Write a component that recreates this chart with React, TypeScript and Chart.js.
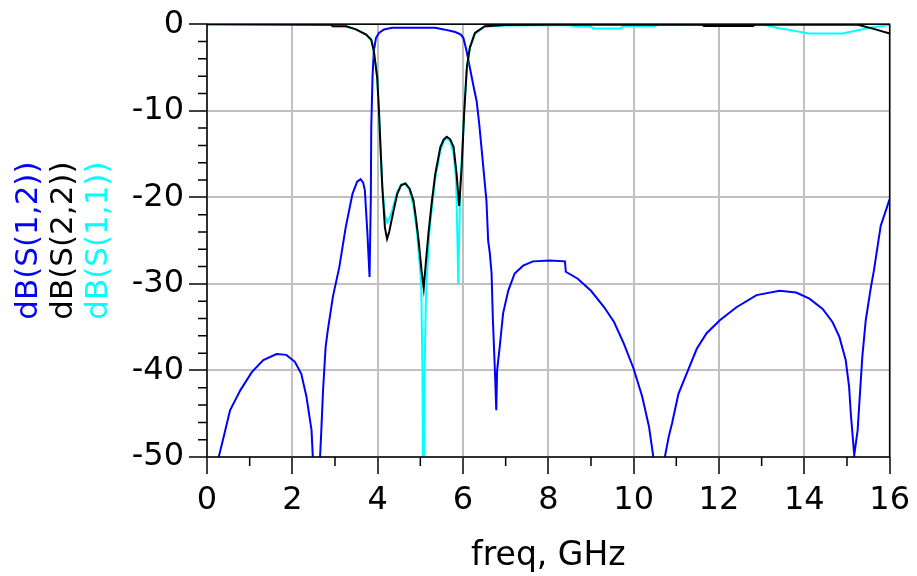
import { useEffect, useRef } from "react";
import { Chart, registerables } from "chart.js";

Chart.register(...registerables);

const FONT = "'DejaVu Sans', 'Liberation Sans', sans-serif";

// ---- Data ----
const s12Freq = [0.25, 0.39, 0.54, 0.78, 1.05, 1.32, 1.63, 1.86, 2.06, 2.21, 2.33, 2.45, 2.49, 2.56, 2.64, 2.68, 2.72, 2.78, 2.83, 2.95, 3.1, 3.25, 3.41, 3.52, 3.6, 3.66, 3.7, 3.76, 3.81, 3.84, 3.85, 3.88, 3.91, 3.96, 4.03, 4.15, 4.34, 5.35, 5.55, 5.82, 5.95, 6.01, 6.08, 6.16, 6.24, 6.32, 6.38, 6.44, 6.55, 6.59, 6.63, 6.67, 6.7, 6.75, 6.78, 6.8, 6.86, 6.94, 7.06, 7.21, 7.41, 7.64, 8.03, 8.39, 8.41, 8.69, 9.0, 9.31, 9.54, 9.77, 10.0, 10.2, 10.36, 10.47, 10.6, 10.72, 10.82, 10.9, 11.05, 11.29, 11.48, 11.71, 12.02, 12.41, 12.88, 13.42, 13.81, 14.12, 14.43, 14.66, 14.82, 14.97, 15.05, 15.09, 15.17, 15.25, 15.3, 15.36, 15.44, 15.56, 15.63, 15.79, 16.0];
const s12Db = [-50.5, -47.7, -44.6, -42.3, -40.2, -38.8, -38.1, -38.2, -39.0, -40.4, -43.0, -46.9, -51, -58, -51, -46.9, -42.3, -37.3, -35.4, -31.5, -28.1, -23.5, -19.6, -18.2, -17.9, -18.3, -19.2, -24.2, -29.2, -20, -11.9, -6, -3.1, -1.6, -1.0, -0.6, -0.42, -0.42, -0.6, -0.9, -1.2, -1.6, -3, -5, -7, -8.9, -11.5, -14.6, -20.4, -25, -26.5, -28.8, -34, -40.3, -44.6, -40, -37.3, -33.4, -30.8, -28.8, -27.9, -27.4, -27.3, -27.4, -28.6, -29.4, -30.8, -32.7, -34.4, -36.9, -39.8, -43.0, -46.5, -50.3, -58, -50.3, -47.7, -46.1, -42.7, -39.8, -37.5, -35.7, -34.2, -32.7, -31.3, -30.8, -31.0, -31.7, -32.9, -34.4, -36.1, -38.8, -41.9, -45.0, -49.8, -46.9, -43.0, -38.4, -34.2, -30.4, -28.5, -23.3, -20.2];

const s22Freq = [0, 2.9, 2.95, 3.26, 3.49, 3.73, 3.85, 3.91, 3.99, 4.03, 4.07, 4.11, 4.17, 4.22, 4.27, 4.34, 4.46, 4.55, 4.65, 4.75, 4.84, 4.9, 4.96, 5.03, 5.08, 5.13, 5.19, 5.27, 5.35, 5.47, 5.55, 5.62, 5.7, 5.78, 5.85, 5.91, 5.97, 6.03, 6.09, 6.16, 6.28, 6.51, 7.0, 8.0, 11.6, 11.65, 12.8, 12.85, 15.2, 15.28, 15.67, 16.0];
const s22Db = [0, -0.05, -0.23, -0.25, -0.6, -1.2, -1.8, -3.1, -6.2, -10, -14.6, -18.9, -23.5, -24.8, -24, -22.3, -19.6, -18.6, -18.4, -19.0, -20.4, -22.5, -25, -28.5, -30.5, -27.5, -24.2, -20.5, -17.3, -14.2, -13.3, -13.0, -13.3, -14.2, -17.3, -21, -16.5, -10, -5, -2.7, -1.0, -0.23, -0.1, -0.05, -0.05, -0.2, -0.2, -0.05, -0.05, -0.1, -0.6, -1.07];

const s11Freq = [0, 2.9, 2.95, 3.26, 3.49, 3.73, 3.85, 3.91, 3.99, 4.03, 4.07, 4.11, 4.17, 4.22, 4.27, 4.34, 4.46, 4.55, 4.65, 4.75, 4.84, 4.92, 4.98, 5.02, 5.05, 5.07, 5.1, 5.13, 5.16, 5.22, 5.35, 5.47, 5.55, 5.62, 5.7, 5.78, 5.84, 5.87, 5.89, 5.91, 5.94, 5.97, 6.03, 6.09, 6.16, 6.28, 6.51, 7.0, 8.5, 8.6, 9.0, 9.05, 9.7, 9.75, 10.5, 10.6, 13.0, 13.2, 13.35, 13.8, 14.1, 14.9, 15.2, 15.6, 16.0];
const s11Db = [0, -0.05, -0.23, -0.25, -0.6, -1.2, -1.8, -3.1, -6.2, -10, -14.6, -18.9, -22.0, -22.9, -22.5, -21.5, -19.3, -18.5, -18.4, -19.2, -21, -24, -27.5, -30, -40, -60, -40, -32, -28.5, -23.5, -17.8, -14.6, -13.5, -13.2, -13.5, -15, -18, -25, -30, -25, -18, -15.5, -10, -5.2, -2.8, -1.1, -0.3, -0.15, -0.1, -0.25, -0.3, -0.5, -0.5, -0.25, -0.2, -0.05, -0.05, -0.2, -0.4, -0.8, -1.07, -1.07, -0.75, -0.35, -0.1];

const xMinorTicks = [1, 3, 5, 7, 9, 11, 13, 15];
const yMinorTicks = [-2, -4, -6, -8, -12, -14, -16, -18, -22, -24, -26, -28, -32, -34, -36, -38, -42, -44, -46, -48];

const yTitles = [
  { text: "dB(S(1,2))", color: "#0000ff" },
  { text: "dB(S(2,2))", color: "#000000" },
  { text: "dB(S(1,1))", color: "#00ffff" },
];
const xTitle = "freq, GHz";

const toPoints = (xs: number[], ys: number[]) => xs.map((x, i) => ({ x, y: ys[i] }));

const decorPlugin = {
  id: "decor",
  afterDraw(chart: any) {
    const { ctx, chartArea: a, scales } = chart;
    const xs = scales.x;
    const ys = scales.y;
    ctx.save();
    ctx.strokeStyle = "#000";
    ctx.lineWidth = 1.5;
    ctx.beginPath();
    for (const v of yMinorTicks) {
      const py = ys.getPixelForValue(v);
      ctx.moveTo(a.left - 9, py);
      ctx.lineTo(a.left, py);
    }
    for (const v of xMinorTicks) {
      const px = xs.getPixelForValue(v);
      ctx.moveTo(px, a.bottom);
      ctx.lineTo(px, a.bottom + 9);
    }
    ctx.stroke();
    ctx.strokeRect(a.left, a.top, a.right - a.left, a.bottom - a.top);

    // x title
    ctx.fillStyle = "#000";
    ctx.font = `33px ${FONT}`;
    ctx.textAlign = "center";
    ctx.textBaseline = "alphabetic";
    ctx.fillText(xTitle, (a.left + a.right) / 2, 565);

    // y titles (rotated)
    ctx.font = `31px ${FONT}`;
    const cy = (a.top + a.bottom) / 2;
    yTitles.forEach((t, i) => {
      ctx.save();
      ctx.translate(37 + i * 35, cy);
      ctx.rotate(-Math.PI / 2);
      ctx.fillStyle = t.color;
      ctx.textAlign = "center";
      ctx.textBaseline = "alphabetic";
      ctx.fillText(t.text, 0, 0);
      ctx.restore();
    });
    ctx.restore();
  },
};

export default function App() {
  const ref = useRef<HTMLCanvasElement>(null);
  useEffect(() => {
    if (!ref.current) return;
    const chart = new Chart(ref.current, {
      type: "line",
      data: {
        datasets: [
          { label: "dB(S(2,2))", data: toPoints(s22Freq, s22Db), borderColor: "#000000", borderWidth: 2, pointRadius: 0, tension: 0, order: 0 },
          { label: "dB(S(1,1))", data: toPoints(s11Freq, s11Db), borderColor: "#00ffff", borderWidth: 2, pointRadius: 0, tension: 0, order: 1 },
          { label: "dB(S(1,2))", data: toPoints(s12Freq, s12Db), borderColor: "#0000ff", borderWidth: 2, pointRadius: 0, tension: 0, order: 2 },
        ],
      },
      options: {
        animation: false,
        responsive: false,
        layout: { padding: { top: 23, right: 23, left: 0, bottom: 0 } },
        plugins: { legend: { display: false }, tooltip: { enabled: false } },
        scales: {
          x: {
            type: "linear",
            min: 0,
            max: 16,
            ticks: { stepSize: 2, color: "#000", font: { family: FONT, size: 32 }, padding: 7, maxRotation: 0 },
            grid: { color: "#c0c0c0", lineWidth: 2, tickColor: "#000", tickLength: 17, tickWidth: 1.5 },
            border: { display: false },
            afterFit: (s: any) => { s.height = 119; },
          },
          y: {
            type: "linear",
            min: -50,
            max: 0,
            ticks: { stepSize: 10, color: "#000", font: { family: FONT, size: 32 }, padding: 5 },
            grid: { color: "#c0c0c0", lineWidth: 2, tickColor: "#000", tickLength: 18, tickWidth: 1.5 },
            border: { display: false },
            afterFit: (s: any) => { s.width = 207; },
          },
        },
      },
      plugins: [decorPlugin],
    });
    return () => chart.destroy();
  }, []);
  return (
    <div style={{ position: "fixed", left: 0, top: 0, width: 917, height: 576, background: "#fff" }}>
      <canvas ref={ref} width={917} height={576} style={{ display: "block", width: 917, height: 576 }} />
    </div>
  );
}
